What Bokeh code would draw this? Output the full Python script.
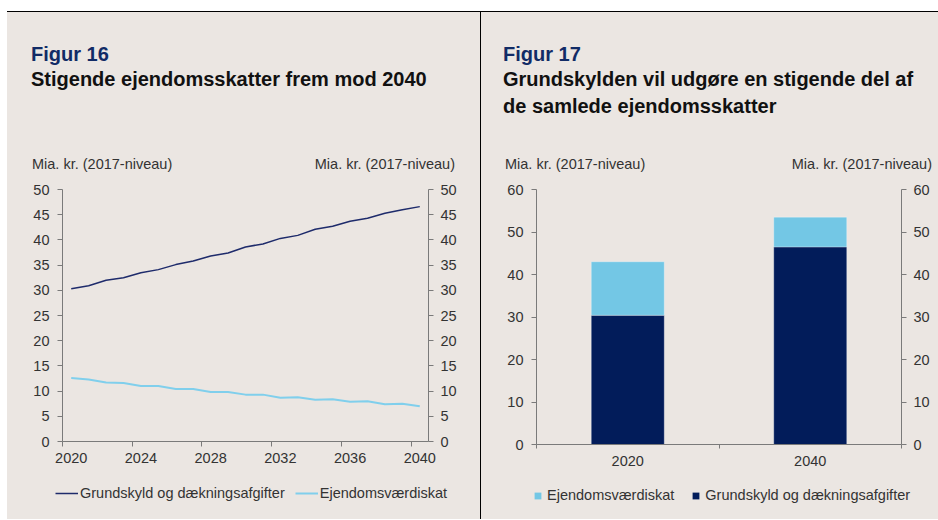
from bokeh.plotting import figure
from bokeh.models import (Range1d, LinearAxis, FixedTicker, Legend,
                          LegendItem, Div, Spacer, ColumnDataSource)
from bokeh.layouts import row, column
from bokeh.embed import file_html
from bokeh.resources import INLINE

# ---------------- data ----------------
years = list(range(2020, 2041))
grundskyld = [30.3, 30.9, 32.0, 32.5, 33.5, 34.1, 35.1, 35.8, 36.8, 37.4, 38.6,
              39.2, 40.3, 40.9, 42.1, 42.7, 43.7, 44.3, 45.3, 46.0, 46.6]
ejendom = [12.6, 12.3, 11.7, 11.6, 11.0, 11.0, 10.4, 10.4, 9.8, 9.8, 9.3,
           9.3, 8.7, 8.8, 8.3, 8.4, 7.9, 8.0, 7.4, 7.5, 7.0]
line_labels = ["Grundskyld og dækningsafgifter", "Ejendomsværdiskat"]
left_y_ticks = [0, 5, 10, 15, 20, 25, 30, 35, 40, 45, 50]
left_x_ticks = [2020, 2024, 2028, 2032, 2036, 2040]

bar_years = ["2020", "2040"]
bar_grund = [30.4, 46.5]
bar_ejendom = [12.6, 7.0]
bar_labels = ["Ejendomsværdiskat", "Grundskyld og dækningsafgifter"]
right_y_ticks = [0, 10, 20, 30, 40, 50, 60]

fig_left_no = "Figur 16"
fig_left_title = ["Stigende ejendomsskatter frem mod 2040"]
fig_right_no = "Figur 17"
fig_right_title = ["Grundskylden vil udgøre en stigende del af",
                   "de samlede ejendomsskatter"]
unit_label = "Mia. kr. (2017-niveau)"

# ---------------- style ----------------
FONT = "Liberation Sans"
BG = "#ebe6e2"
AXIS = "#7a7a7a"
TEXT = "#333333"
TITLE_NAVY = "#112b66"
NAVY_LINE = "#1e2b6b"
LIGHT_LINE = "#80cfec"
NAVY_BAR = "#021c5a"
LIGHT_BAR = "#73c7e5"
FS = "14.5px"

HDR_H = 168      # header: page y 12 .. 180
FIG_H = 295      # chart:  page y 180 .. 475
LEG_H = 44       # legend: page y 475 .. 519
LW, RW = 473, 457
BGS = {"background-color": BG}


def style_axis(ax, standoff):
    ax.axis_line_color = AXIS
    ax.axis_line_width = 1
    ax.major_tick_line_color = AXIS
    ax.minor_tick_line_color = AXIS
    ax.major_tick_in = 0
    ax.minor_tick_in = 0
    ax.major_label_text_font = FONT
    ax.major_label_text_font_size = FS
    ax.major_label_text_color = TEXT
    ax.major_label_standoff = standoff


def text_div(txt, top, size, color, bold=False, left=None, right=None):
    pos = f"left:{left}px;" if left is not None else f"right:{right}px;"
    weight = "bold" if bold else "normal"
    return (f'<div style="position:absolute;{pos}top:{top}px;'
            f"font-family:'{FONT}',Arial,sans-serif;font-size:{size}px;"
            f'line-height:1;color:{color};font-weight:{weight};'
            f'white-space:nowrap;">{txt}</div>')


def header(w, no, title_lines, x_title, x_unit_l, unit_r):
    parts = [f'<div style="position:relative;width:{w}px;height:{HDR_H}px;">']
    # baselines (page y): 60.5, 86, 113 ; unit labels 169 ; header origin y = 12
    parts.append(text_div(no, 60.5 - 12 - 16.9, 20, TITLE_NAVY, True, left=x_title))
    for i, line in enumerate(title_lines):
        parts.append(text_div(line, 86 + 27 * i - 12 - 16.9, 20, "#111111", True, left=x_title))
    parts.append(text_div(unit_label, 169 - 12 - 12.3, 14.5, TEXT, left=x_unit_l))
    parts.append(text_div(unit_label, 169 - 12 - 12.3, 14.5, TEXT, right=unit_r))
    parts.append("</div>")
    return Div(text="".join(parts), width=w, height=HDR_H, margin=0, styles=BGS)


def legend_fig(w):
    # legend strip; its range keeps the series out of view, only the legend shows
    f = figure(width=w, height=LEG_H, output_backend="svg", toolbar_location=None,
               x_range=Range1d(-2, -1), y_range=Range1d(-2, -1),
               x_axis_type=None, y_axis_type=None,
               min_border_left=0, min_border_right=0,
               min_border_top=0, min_border_bottom=0)
    f.background_fill_color = BG
    f.border_fill_color = BG
    f.outline_line_color = None
    f.grid.visible = False
    return f


line_src = ColumnDataSource(dict(year=years, grund=grundskyld, ejd=ejendom))

# ---------------- left: line chart ----------------
p1 = figure(width=LW, height=FIG_H, output_backend="svg", toolbar_location=None,
            x_range=Range1d(years[0] - 0.5, years[-1] + 0.5),
            y_range=Range1d(left_y_ticks[0], left_y_ticks[-1]),
            min_border_left=55, min_border_right=52,
            min_border_top=9, min_border_bottom=34)
p1.background_fill_color = BG
p1.border_fill_color = BG
p1.outline_line_color = None
p1.grid.visible = False

p1.line("year", "grund", source=line_src, line_color=NAVY_LINE, line_width=1.5)
p1.line("year", "ejd", source=line_src, line_color=LIGHT_LINE, line_width=2)

xa = p1.xaxis[0]
xa.ticker = FixedTicker(ticks=left_x_ticks,
                        minor_ticks=[t - 0.5 for t in left_x_ticks])
style_axis(xa, 6)
xa.major_tick_out = 0
xa.minor_tick_out = 5

ya = p1.yaxis[0]
ya.ticker = FixedTicker(ticks=left_y_ticks)
style_axis(ya, 8)
ya.major_tick_out = 5
ya.minor_tick_out = 0

ya2 = LinearAxis(ticker=FixedTicker(ticks=left_y_ticks))
style_axis(ya2, 7)
ya2.major_tick_out = 5
ya2.minor_tick_out = 0
p1.add_layout(ya2, "right")

lf1 = legend_fig(LW)
k1 = lf1.line("year", "grund", source=line_src, line_color=NAVY_LINE, line_width=1.5)
k2 = lf1.line("year", "ejd", source=line_src, line_color=LIGHT_LINE, line_width=2)
leg1 = Legend(items=[LegendItem(label=line_labels[0], renderers=[k1]),
                     LegendItem(label=line_labels[1], renderers=[k2])],
              orientation="horizontal", location=(55 - 7, LEG_H - (493 - 475) - 10),
              background_fill_alpha=0, border_line_color=None,
              padding=0, margin=0, spacing=10, label_standoff=2,
              glyph_width=23, glyph_height=20, label_height=20,
              label_text_font=FONT, label_text_font_size=FS,
              label_text_color=TEXT)
lf1.add_layout(leg1, "center")

# ---------------- right: stacked bars ----------------
p2 = figure(width=RW, height=FIG_H, output_backend="svg", toolbar_location=None,
            x_range=Range1d(0, len(bar_years)),
            y_range=Range1d(right_y_ticks[0], right_y_ticks[-1]),
            min_border_left=55, min_border_right=37,
            min_border_top=9, min_border_bottom=31)
p2.background_fill_color = BG
p2.border_fill_color = BG
p2.outline_line_color = None
p2.grid.visible = False

xs = [i + 0.5 for i in range(len(bar_years))]
tops = [g + e for g, e in zip(bar_grund, bar_ejendom)]
bar_src = ColumnDataSource(dict(x=xs, grund=bar_grund, top=tops))
p2.vbar(x="x", bottom=0, top="grund", source=bar_src, width=0.4, fill_color=NAVY_BAR,
        line_color="#ffffff", line_alpha=0.3, line_width=1)
p2.vbar(x="x", bottom="grund", top="top", source=bar_src, width=0.4, fill_color=LIGHT_BAR,
        line_color="#ffffff", line_alpha=0.3, line_width=1)

xb = p2.xaxis[0]
xb.ticker = FixedTicker(ticks=xs, minor_ticks=list(range(len(bar_years) + 1)))
xb.major_label_overrides = {x: lab for x, lab in zip(xs, bar_years)}
style_axis(xb, 7)
xb.major_tick_out = 0
xb.minor_tick_out = 4

yb = p2.yaxis[0]
yb.ticker = FixedTicker(ticks=right_y_ticks)
style_axis(yb, 8)
yb.major_tick_out = 5
yb.minor_tick_out = 0

yb2 = LinearAxis(ticker=FixedTicker(ticks=right_y_ticks))
style_axis(yb2, 7)
yb2.major_tick_out = 5
yb2.minor_tick_out = 0
p2.add_layout(yb2, "right")

lf2 = legend_fig(RW)
s1 = lf2.scatter("x", "top", source=bar_src, marker="square", size=7,
                 fill_color=LIGHT_BAR, line_color=None)
s2 = lf2.scatter("x", "grund", source=bar_src, marker="square", size=7,
                 fill_color=NAVY_BAR, line_color=None)
leg2 = Legend(items=[LegendItem(label=bar_labels[0], renderers=[s1]),
                     LegendItem(label=bar_labels[1], renderers=[s2])],
              orientation="horizontal", location=(529 - 481, LEG_H - (495 - 475) - 8.5),
              background_fill_alpha=0, border_line_color=None,
              padding=0, margin=0, spacing=13, label_standoff=1,
              glyph_width=17, glyph_height=17, label_height=17,
              label_text_font=FONT, label_text_font_size=FS,
              label_text_color=TEXT)
lf2.add_layout(leg2, "center")

# ---------------- headers ----------------
hdr_l = header(LW, fig_left_no, fig_left_title, 31 - 7, 32 - 7, (7 + LW) - 455)
hdr_r = header(RW, fig_right_no, fig_right_title, 503 - 481, 505 - 481, (481 + RW) - 932)

# ---------------- layout ----------------
top_rule = Div(text="", width=931, height=1, margin=0,
               styles={"background-color": "black"})
sep1 = Div(text="", width=1, height=HDR_H + FIG_H, margin=0,
           styles={"background-color": "black"})
sep2 = Div(text="", width=1, height=LEG_H, margin=0,
           styles={"background-color": "black"})
layout = column(
    Spacer(width=938, height=11, margin=0),
    row(Spacer(width=7, height=1, margin=0), top_rule),
    row(Spacer(width=7, height=HDR_H + FIG_H, margin=0),
        column(hdr_l, p1, styles=BGS), sep1, column(hdr_r, p2, styles=BGS)),
    row(Spacer(width=7, height=LEG_H, margin=0),
        row(lf1, sep2, lf2, styles=BGS)),
)

open("out.html", "w").write(file_html(layout, INLINE))
